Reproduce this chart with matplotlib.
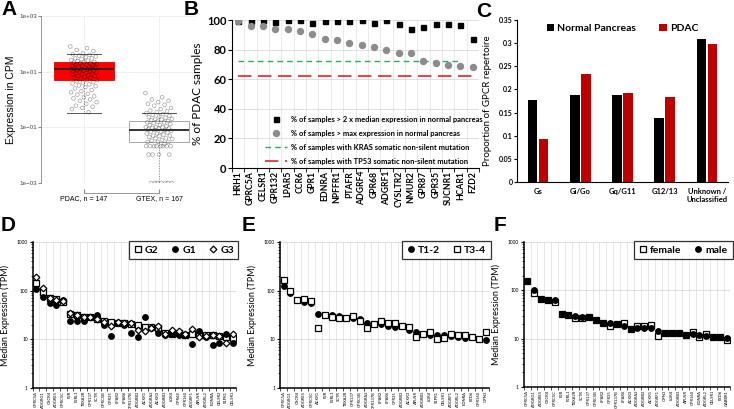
import numpy as np
import matplotlib
matplotlib.use('Agg')
import matplotlib.pyplot as plt

plt.rcParams['font.family'] = ['Lato', 'DejaVu Sans']
plt.rcParams['font.weight'] = 'bold'

# ---------------- data ----------------
# A: expression in CPM
pdac_cpm = [80, 70, 60, 55, 45, 42, 40, 38, 35, 33, 30, 30, 28, 26, 25, 24, 22, 22, 21, 20,
            20, 19, 18, 18, 17, 16, 16, 15, 15, 14, 14, 13, 13, 12, 12, 12, 11, 11, 11, 10,
            10, 10, 9.5, 9, 9, 8.5, 8, 8, 7.5, 7, 7, 6.5, 6, 6, 5.5, 5, 5, 4.5, 4.2, 4,
            3.8, 3.5, 3.2, 3, 2.8, 2.5, 2.2, 2, 1.8, 1.6, 1.5, 1.3, 1.2, 1.1, 1.0, 0.9,
            0.8, 0.7, 0.6, 0.55, 0.5, 0.45, 0.35]
gtex_cpm = [1.7, 1.2, 1.0, 0.9, 0.8, 0.7, 0.65, 0.6, 0.5, 0.45, 0.4, 0.38, 0.35, 0.32, 0.3,
            0.28, 0.26, 0.25, 0.23, 0.22, 0.2, 0.2, 0.19, 0.18, 0.17, 0.16, 0.15, 0.15, 0.14,
            0.13, 0.12, 0.12, 0.11, 0.1, 0.1, 0.1, 0.095, 0.09, 0.09, 0.085, 0.08, 0.08,
            0.075, 0.07, 0.07, 0.065, 0.06, 0.06, 0.055, 0.05, 0.05, 0.048, 0.045, 0.04,
            0.04, 0.038, 0.035, 0.033, 0.03, 0.03, 0.03, 0.025, 0.021, 0.021, 0.021, 0.021,
            0.021, 0.021, 0.021, 0.021, 0.0105, 0.0105, 0.0105, 0.0105,
            0.001, 0.001, 0.001, 0.001, 0.001, 0.001, 0.001]
a_groups = ['PDAC, n = 147', 'GTEX, n = 167']
pdac_box = dict(q1=5.2, med=12, q3=22, whislo=0.33, whishi=43)
gtex_box = dict(q1=0.03, med=0.08, q3=0.17, whislo=0.001, whishi=0.33)

# B: % of PDAC samples
b_genes = ['HRH1', 'GPRC5A', 'CELSR1', 'GPR132', 'LPAR5', 'CCR6', 'GPR1', 'EDNRA', 'NPFFR1',
           'PTAFR', 'ADGRF4', 'GPR68', 'ADGRF1', 'CYSLTR2', 'NMUR2', 'GPR87', 'GPR35',
           'SUCNR1', 'HCAR1', 'FZD2']
b_above_2x = [99.3, 99.3, 99.8, 98.4, 99.8, 99.8, 97.7, 99, 99, 99, 99.8, 97.7, 99.8, 97.5,
              94.1, 95, 97.5, 97, 96.4, 87.4]
b_above_max = [99.3, 96.2, 95.7, 94.1, 93.7, 92.8, 90.7, 86.9, 86.2, 84.7, 82.8, 81.7, 79.9,
               77.9, 77.4, 72.3, 71.1, 69.8, 68.8, 68.2]
kras_pct = 72.3
tp53_pct = 61.9

# C: proportion of GPCR repertoire
c_classes = ['Gs', 'Gi/Go', 'Gq/G11', 'G12/13', 'Unknown /\nUnclassified']
c_normal = [0.178, 0.189, 0.187, 0.139, 0.308]
c_pdac = [0.094, 0.234, 0.193, 0.183, 0.299]

# D: grade
d_genes = ['GPRC5A', 'ADGRG1', 'CXCR4', 'ADGRE5', 'GPRC5C', 'F2R', 'F2RL1', 'TBXA2R', 'GPR137',
           'SCTR', 'GPRC5B', 'GPR35', 'LPAR2', 'LPAR6', 'GPR137B', 'ADGRB2', 'ACKR1', 'ADGRA2',
           'ACKR3', 'ADGRB3', 'LGR4', 'GPR68', 'GPR160', 'ADGRF1', 'APLNR', 'ADGRL2', 'EDNRA',
           'CELSR2', 'S1PR1', 'CELSR1']
d_g2 = [141, 93, 72, 66, 58, 33, 32, 29, 29, 25.6, 23.7, 22.3, 22, 21.2, 20.5, 19.3, 18.1, 18,
        17.5, 13.2, 12.6, 13.2, 12.4, 12.8, 12.2, 12.2, 12.2, 11.8, 11.3, 10.7]
d_g1 = [106, 75, 57, 51, 64, 24, 24, 24, 29, 31.5, 19.6, 11.6, 21.8, 19.5, 13.2, 11.1, 29, 17,
        13.6, 12.2, 13, 12.4, 12.4, 8.2, 14.5, 11.3, 7.6, 8.6, 12.8, 8.6]
d_g3 = [190, 115, 70, 64, 61, 34, 31, 29, 29, 26.5, 23, 19, 22.5, 21.5, 21.5, 15.9, 14.7, 17.2,
        19, 13, 15.5, 14.5, 12.6, 16.2, 11.1, 11.6, 12.2, 11.8, 8.6, 12.8]

# E: tumour stage
e_genes = ['GPRC5A', 'ADGRG1', 'CXCR4', 'ADGRE5', 'GPRC5C', 'ACKR1', 'F2R', 'F2RL1', 'SCTR',
           'TBXA2R', 'GPR137', 'GPRC5B', 'ADGRA2', 'GPR137B', 'LPAR2', 'LPAR6', 'GPR35',
           'ADGRB2', 'ACKR3', 'APLNR', 'ADGRB3', 'LGR4', 'S1PR1', 'CELSR1', 'ADGRF1', 'ADGRL2',
           'EDNRA', 'FZD6', 'GPR160', 'OPN3']
e_t12 = [125, 88, 64, 57.5, 55.6, 33.6, 32, 31, 30, 28, 28, 25.6, 21.5, 20.2, 20.2, 18.7, 18.1,
         18.4, 15.9, 14.1, 13, 12.4, 12.2, 12, 11.6, 11.1, 10.7, 11.1, 10.2, 9.9]
e_t34 = [163, 100, 64, 67, 61, 17.5, 32, 29, 27.7, 28, 30, 23.4, 17.5, 20.2, 23.4, 21.5, 21.8,
         18.4, 17.8, 11.3, 13, 14.1, 10.3, 10.7, 12.8, 12.2, 12, 11.1, 10.2, 14.1]

# F: sex
f_genes = ['GPRC5A', 'ADGRG1', 'ADGRE5', 'CXCR4', 'GPRC5C', 'F2R', 'F2RL1', 'TBXA2R', 'SCTR',
           'GPR137', 'GPRC5B', 'LPAR2', 'GPR35', 'GPR137B', 'LPAR6', 'ACKR3', 'ADGRA2', 'ADGRB2',
           'ACKR1', 'ADGRF1', 'OPN3', 'LGR4', 'ADGRB3', 'APLNR', 'GPR160', 'EDNRA', 'ADGRL2',
           'CELSR1', 'FZD6', 'GABBR1']
f_female = [153, 89, 65, 63, 57, 32.5, 30.5, 26.5, 27, 28.7, 24, 21.2, 18.7, 20, 21.5, 16.2,
            18.1, 18.1, 19.3, 11.4, 13.4, 12.8, 13.2, 12, 13.8, 10.9, 12.4, 11, 10.7, 9.3]
f_male = [153, 103, 65, 63, 62, 32.5, 30.5, 29, 28.7, 28.7, 24, 21.2, 21.2, 20, 18.7, 16.2,
          16.5, 16.5, 16.5, 14.3, 13.4, 12.8, 13.2, 12, 12.2, 11.8, 11.4, 11, 10.7, 10.4]

# ---------------- figure ----------------
fig = plt.figure(figsize=(7.34, 4.09), dpi=100)

def letter(x, y, s):
    fig.text(x / 734, 1 - y / 409, s, fontsize=15, fontweight='bold',
             family='Liberation Sans', va='top', ha='left')

# ---- A ----
axA = fig.add_axes([0.0559, 0.5526, 0.2098, 0.4083])
# spine position first: moving it resets the tick labels
axA.spines['bottom'].set_position(('outward', 7))
axA.set_yscale('log')
bp = axA.bxp([pdac_box, gtex_box], positions=[0, 1], widths=0.8, patch_artist=True,
             showfliers=False, capwidths=0.45,
             whiskerprops=dict(color='#888888', lw=0.7, ls=':'),
             capprops=dict(color='#555555', lw=0.7),
             medianprops=dict(color='#222222', lw=1.3, zorder=5))
bp['boxes'][0].set(facecolor='#ff0000', edgecolor='#e00000', lw=0.6)
bp['boxes'][1].set(facecolor='white', edgecolor='#999999', lw=0.6)
for k, vals in enumerate([pdac_cpm, gtex_cpm]):
    idx = np.arange(len(vals))
    xs = k + ((idx * 0.61803) % 1 - 0.5) * 0.36
    axA.scatter(xs, vals, s=7, facecolors='none', edgecolors='black', linewidths=0.45,
                alpha=0.4, zorder=3)
axA.set_ylim(1e-3, 1e3)
axA.set_xlim(-0.57, 1.48)
axA.set_yticks([1e-3, 1e-1, 1e1, 1e3])
axA.set_yticklabels(['1e\u221203', '1e\u221201', '1e+01', '1e+03'], fontsize=4.5,
                    fontweight='normal', family='Liberation Sans', color='#444444')
axA.minorticks_off()
axA.set_xticks([0, 1])
axA.set_xticklabels(a_groups, fontsize=5, fontweight='normal', family='Liberation Sans')
axA.grid(True, color='#eeeeee', lw=0.6)
axA.set_axisbelow(True)
for s in ['top', 'right']:
    axA.spines[s].set_visible(False)
axA.spines['left'].set_color('#888888')
axA.spines['left'].set_linewidth(0.6)
axA.spines['bottom'].set_bounds(0, 1)
axA.spines['bottom'].set_color('#888888')
axA.spines['bottom'].set_linewidth(0.6)
axA.tick_params(axis='x', direction='in', length=3, color='#888888', pad=2)
axA.tick_params(axis='y', length=2, color='#888888', pad=1)
axA.set_ylabel('Expression in CPM', fontsize=7.5, fontweight='normal',
               family='Liberation Sans', labelpad=2)
letter(1, 0, 'A')

# ---- B ----
axB = fig.add_axes([0.3161, 0.5892, 0.3365, 0.3619])
xb = np.arange(len(b_genes))
axB.plot(xb, b_above_2x, 's', color='black', ms=3.6, zorder=3,
         label='% of samples > 2 x median expression in normal pancreas')
axB.plot(xb, b_above_max, 'o', color='#8c8c8c', ms=4.3, zorder=4,
         label='% of samples > max expression in normal pancreas')
axB.plot([xb[0], xb[-2]], [kras_pct, kras_pct], color='#20b060', lw=1, dashes=(4, 3),
         label='% of samples with KRAS somatic non-silent mutation')
axB.plot([xb[0], xb[-1]], [tp53_pct, tp53_pct], color='#e8202a', lw=1.2, dashes=(8, 4),
         label='% of samples with TP53 somatic non-silent mutation')
axB.set_xlim(-0.5, len(b_genes) - 0.5)
axB.set_ylim(0, 100)
axB.set_yticks([0, 20, 40, 60, 80, 100])
axB.set_xticks(xb)
axB.set_xticklabels(b_genes, rotation=90, fontsize=6.2)
axB.set_xticks(np.arange(len(b_genes) + 1) - 0.5, minor=True)
axB.tick_params(axis='y', labelsize=8, length=3, pad=1)
axB.tick_params(axis='x', which='major', length=0, pad=2)
axB.tick_params(axis='x', which='minor', length=3)
axB.grid(True, axis='y', color='#d9d9d9', lw=0.6)
axB.grid(True, axis='x', which='minor', color='#e6e6e6', lw=0.6)
axB.set_axisbelow(True)
for s in ['top', 'right']:
    axB.spines[s].set_visible(False)
axB.set_ylabel('% of PDAC samples', fontsize=8.5, labelpad=3)
axB.legend(loc='lower left', bbox_to_anchor=(0.12, 0.0), frameon=False, fontsize=5.4,
           handlelength=3, labelspacing=0.95, handletextpad=0.5, borderaxespad=0)
letter(184, 0, 'B')

# ---- C ----
axC = fig.add_axes([0.7044, 0.555, 0.2875, 0.396])
xc = np.arange(len(c_classes))
axC.bar(xc - 0.13, c_normal, width=0.23, color='black', label='Normal Pancreas')
axC.bar(xc + 0.13, c_pdac, width=0.23, color='#c00000', label='PDAC')
axC.set_xlim(-0.5, len(c_classes) - 0.5)
axC.set_ylim(0, 0.35)
axC.set_yticks([0, 0.05, 0.1, 0.15, 0.2, 0.25, 0.3, 0.35])
axC.set_yticklabels(['0', '0.05', '0.1', '0.15', '0.2', '0.25', '0.3', '0.35'])
axC.set_xticks(xc)
axC.set_xticklabels(c_classes, fontsize=5.5)
axC.tick_params(axis='y', labelsize=5, length=2, pad=1)
axC.tick_params(axis='x', length=0, pad=4)
for s in ['top', 'right']:
    axC.spines[s].set_visible(False)
axC.set_ylabel('Proportion of GPCR repertoire', fontsize=7, labelpad=5)
axC.legend(loc='upper center', bbox_to_anchor=(0.5, 1.0), ncol=2, frameon=False, fontsize=7.5,
           handlelength=0.7, handleheight=0.7, handletextpad=0.3, columnspacing=2.2,
           borderaxespad=0)
letter(476, 2, 'C')

# ---- D, E, F ----
def median_panel(rect, genes, series, ncol_labels):
    ax = fig.add_axes(rect)
    x = np.arange(len(genes))
    for vals, mk, fc, ms, lab in series:
        ax.plot(x, vals, mk, ls='none', mfc=fc, mec='black', mew=0.9, ms=ms, label=lab,
                zorder=3)
    ax.set_yscale('log')
    ax.set_ylim(1, 1000)
    ax.set_xlim(-0.5, len(genes) - 0.5)
    ax.set_yticks([1, 10, 100, 1000])
    ax.set_yticklabels(['1', '10', '100', '1000'], fontsize=3.5, fontweight='normal')
    ax.set_xticks(x)
    ax.set_xticklabels(genes, rotation=90, fontsize=3, fontweight='normal')
    ax.set_xticks(np.arange(len(genes) + 1) - 0.5, minor=True)
    ax.tick_params(axis='x', which='major', length=0, pad=2)
    ax.tick_params(axis='x', which='minor', length=2, width=0.5)
    ax.tick_params(axis='y', which='major', length=2.5, width=0.8, pad=1)
    ax.tick_params(axis='y', which='minor', length=1.5, width=0.5)
    ax.grid(True, axis='y', which='major', color='#d9d9d9', lw=0.6)
    ax.grid(True, axis='x', which='minor', color='#e3e3e3', lw=0.6)
    ax.set_axisbelow(True)
    for s in ['top', 'right']:
        ax.spines[s].set_visible(False)
    for s in ['left', 'bottom']:
        ax.spines[s].set_linewidth(1.1)
    ax.set_ylabel('Median Expression (TPM)', fontsize=6.5, labelpad=5)
    leg = ax.legend(loc='upper right', bbox_to_anchor=(1.01, 1.01), ncol=ncol_labels,
                    fontsize=7.5, frameon=True, fancybox=False, handlelength=0.8,
                    handletextpad=0.3, columnspacing=1.2, borderaxespad=0, borderpad=0.45)
    leg.get_frame().set_edgecolor('black')
    leg.get_frame().set_linewidth(0.9)
    return ax

median_panel([0.0444, 0.0513, 0.2777, 0.357], d_genes,
             [(d_g2, 's', 'white', 4, 'G2'), (d_g1, 'o', 'black', 4, 'G1'),
              (d_g3, 'D', 'white', 3.4, 'G3')], 3)
letter(1, 216, 'D')

median_panel([0.3815, 0.0513, 0.2847, 0.357], e_genes,
             [(e_t12, 'o', 'black', 4, 'T1-2'), (e_t34, 's', 'white', 4.2, 'T3-4')], 2)
letter(242, 216, 'E')

median_panel([0.7134, 0.0538, 0.2818, 0.3545], f_genes,
             [(f_female, 's', 'white', 4.2, 'female'), (f_male, 'o', 'black', 4, 'male')], 2)
letter(494, 216, 'F')

fig.savefig('out.png', dpi=100)
